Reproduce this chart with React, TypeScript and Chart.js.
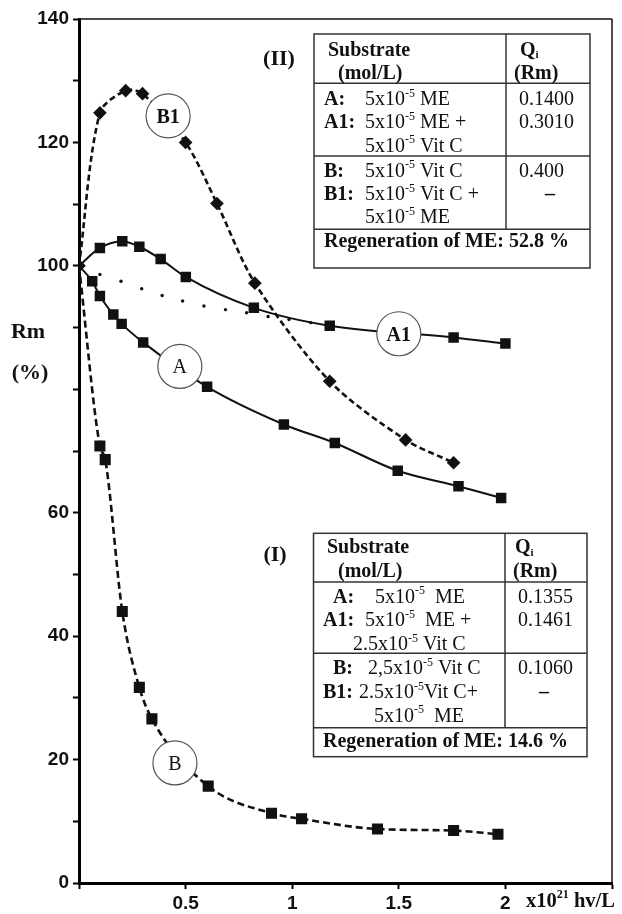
import React, { useEffect, useRef } from "react";
import { Chart, registerables } from "chart.js";

Chart.register(...registerables);

// ---------- data ----------
const aX = [0, 0.062, 0.098, 0.161, 0.2, 0.301, 0.601, 0.961, 1.2, 1.495, 1.78, 1.98];
const aY = [100, 97.5, 95.1, 92.1, 90.6, 87.6, 80.4, 74.3, 71.3, 66.8, 64.3, 62.4];

const a1X = [0, 0.098, 0.203, 0.283, 0.383, 0.501, 0.82, 1.176, 1.757, 2.0];
const a1Y = [100, 102.9, 104.0, 103.1, 101.1, 98.2, 93.2, 90.3, 88.4, 87.4];

const bX = [0, 0.098, 0.123, 0.203, 0.283, 0.342, 0.606, 0.903, 1.044, 1.4, 1.757, 1.965];
const bY = [100, 70.8, 68.6, 44.0, 31.7, 26.6, 15.7, 11.3, 10.4, 8.75, 8.5, 7.9];

const b1X = [0, 0.098, 0.219, 0.298, 0.5, 0.647, 0.825, 1.176, 1.532, 1.757];
const b1Y = [100, 124.8, 128.4, 127.9, 120.0, 110.1, 97.2, 81.3, 71.8, 68.1];

const dotX = [0.098, 0.197, 0.294, 0.39, 0.486, 0.586, 0.687, 0.786, 0.887, 0.985, 1.087];
const dotY = [98.6, 97.5, 96.3, 95.2, 94.3, 93.5, 92.9, 92.4, 91.8, 91.3, 90.8];

const xTickLabels = ["", "0.5", "1", "1.5", "2", ""];
const yTickLabels = ["0", "", "20", "", "40", "", "60", "", "", "", "100", "", "120", "", "140"];

const curveNames = ["B1", "A1", "A", "B"];
const curveLabelX = [0.418, 1.5, 0.473, 0.45];
const curveLabelY = [124.3, 89.0, 83.7, 19.45];

const yTitle = ["Rm", "(%)"];
const xTitle = ["x10", "21", " hv/L"];

type Seg = [string, string];
// Table (II)
const t2Rows: { x: number; y: number; segs: Seg[] }[] = [
  { x: 328, y: 55.7, segs: [["Substrate", "b"]] },
  { x: 338, y: 79.3, segs: [["(mol/L)", "b"]] },
  { x: 520, y: 55.7, segs: [["Q", "b"], ["i", "sub"]] },
  { x: 514, y: 79.3, segs: [["(Rm)", "b"]] },
  { x: 324, y: 105, segs: [["A:", "b"]] },
  { x: 365, y: 105, segs: [["5x10", "n"], ["-5", "sup"], [" ME", "n"]] },
  { x: 519, y: 105, segs: [["0.1400", "n"]] },
  { x: 324, y: 128.3, segs: [["A1:", "b"]] },
  { x: 365, y: 128.3, segs: [["5x10", "n"], ["-5", "sup"], [" ME +", "n"]] },
  { x: 519, y: 128.3, segs: [["0.3010", "n"]] },
  { x: 365, y: 151.7, segs: [["5x10", "n"], ["-5", "sup"], [" Vit C", "n"]] },
  { x: 324, y: 176.7, segs: [["B:", "b"]] },
  { x: 365, y: 176.7, segs: [["5x10", "n"], ["-5", "sup"], [" Vit C", "n"]] },
  { x: 519, y: 176.7, segs: [["0.400", "n"]] },
  { x: 324, y: 200, segs: [["B1:", "b"]] },
  { x: 365, y: 200, segs: [["5x10", "n"], ["-5", "sup"], [" Vit C +", "n"]] },
  { x: 545, y: 200, segs: [["–", "b"]] },
  { x: 365, y: 223.3, segs: [["5x10", "n"], ["-5", "sup"], [" ME", "n"]] },
  { x: 324, y: 246.7, segs: [["Regeneration of ME: 52.8 %", "b"]] },
];
// Table (I)
const t1Rows: { x: number; y: number; segs: Seg[] }[] = [
  { x: 327, y: 553.3, segs: [["Substrate", "b"]] },
  { x: 338, y: 576.7, segs: [["(mol/L)", "b"]] },
  { x: 515, y: 553.3, segs: [["Q", "b"], ["i", "sub"]] },
  { x: 513, y: 576.7, segs: [["(Rm)", "b"]] },
  { x: 333, y: 602.7, segs: [["A:", "b"]] },
  { x: 375, y: 602.7, segs: [["5x10", "n"], ["-5", "sup"], ["  ME", "n"]] },
  { x: 518, y: 602.7, segs: [["0.1355", "n"]] },
  { x: 323, y: 626, segs: [["A1:", "b"]] },
  { x: 365, y: 626, segs: [["5x10", "n"], ["-5", "sup"], ["  ME +", "n"]] },
  { x: 518, y: 626, segs: [["0.1461", "n"]] },
  { x: 353, y: 650, segs: [["2.5x10", "n"], ["-5", "sup"], [" Vit C", "n"]] },
  { x: 333, y: 674, segs: [["B:", "b"]] },
  { x: 368, y: 674, segs: [["2,5x10", "n"], ["-5", "sup"], [" Vit C", "n"]] },
  { x: 518, y: 674, segs: [["0.1060", "n"]] },
  { x: 323, y: 698.3, segs: [["B1:", "b"]] },
  { x: 359, y: 698.3, segs: [["2.5x10", "n"], ["-5", "sup"], ["Vit C+", "n"]] },
  { x: 539, y: 698.3, segs: [["–", "b"]] },
  { x: 374, y: 721.7, segs: [["5x10", "n"], ["-5", "sup"], ["  ME", "n"]] },
  { x: 323, y: 746.7, segs: [["Regeneration of ME: 14.6 %", "b"]] },
];

const SERIF = '"Liberation Serif", "Times New Roman", serif';
const SANS = '"Liberation Sans", Arial, sans-serif';

function drawRich(ctx: CanvasRenderingContext2D, x: number, y: number, segs: Seg[], size: number) {
  let cx = x;
  ctx.textAlign = "left";
  ctx.textBaseline = "alphabetic";
  for (const [t, k] of segs) {
    let dy = 0;
    if (k === "b") ctx.font = `bold ${size}px ${SERIF}`;
    else if (k === "n") ctx.font = `${size}px ${SERIF}`;
    else if (k === "sup") {
      ctx.font = `${Math.round(size * 0.6)}px ${SERIF}`;
      dy = -size * 0.42;
    } else if (k === "bsup") {
      ctx.font = `bold ${Math.round(size * 0.6)}px ${SERIF}`;
      dy = -size * 0.42;
    } else if (k === "sub") {
      ctx.font = `bold ${Math.round(size * 0.55)}px ${SERIF}`;
      dy = size * 0.12;
    }
    ctx.fillText(t, cx, y + dy);
    cx += ctx.measureText(t).width;
  }
}

function line(ctx: CanvasRenderingContext2D, x1: number, y1: number, x2: number, y2: number) {
  ctx.beginPath();
  ctx.moveTo(x1, y1);
  ctx.lineTo(x2, y2);
  ctx.stroke();
}

const decorPlugin = {
  id: "decor",
  beforeDraw(chart: any) {
    const ctx = chart.ctx;
    ctx.save();
    ctx.fillStyle = "#fff";
    ctx.fillRect(0, 0, chart.width, chart.height);
    ctx.restore();
  },
  afterDatasetsDraw(chart: any) {
    const ctx: CanvasRenderingContext2D = chart.ctx;
    const xs = chart.scales.x;
    const ys = chart.scales.y;
    ctx.save();
    for (let i = 0; i < curveNames.length; i++) {
      const px = xs.getPixelForValue(curveLabelX[i]);
      const py = ys.getPixelForValue(curveLabelY[i]);
      ctx.beginPath();
      ctx.arc(px, py, 22, 0, Math.PI * 2);
      ctx.fillStyle = "#fff";
      ctx.fill();
      ctx.lineWidth = 1.2;
      ctx.strokeStyle = "#555";
      ctx.stroke();
      ctx.fillStyle = "#111";
      const bold = curveNames[i].length > 1;
      ctx.font = `${bold ? "bold " : ""}20px ${SERIF}`;
      ctx.textAlign = "center";
      ctx.textBaseline = "alphabetic";
      ctx.fillText(curveNames[i], px, py + 7);
    }
    ctx.restore();
  },
  afterDraw(chart: any) {
    const ctx: CanvasRenderingContext2D = chart.ctx;
    const ca = chart.chartArea;
    ctx.save();
    // top and right frame
    ctx.strokeStyle = "#111";
    ctx.lineWidth = 1.5;
    line(ctx, ca.left, ca.top, ca.right, ca.top);
    line(ctx, ca.right, ca.top, ca.right, ca.bottom);

    // tables
    ctx.strokeStyle = "#333";
    ctx.lineWidth = 1.5;
    // table II
    ctx.strokeRect(314, 34, 276, 234);
    line(ctx, 314, 83.3, 590, 83.3);
    line(ctx, 314, 156, 590, 156);
    line(ctx, 314, 229.3, 590, 229.3);
    line(ctx, 506, 34, 506, 229.3);
    // table I
    ctx.strokeRect(313.5, 533.3, 273.5, 223.4);
    line(ctx, 313.5, 582, 587, 582);
    line(ctx, 313.5, 653.3, 587, 653.3);
    line(ctx, 313.5, 727.7, 587, 727.7);
    line(ctx, 505, 533.3, 505, 727.7);

    ctx.fillStyle = "#111";
    for (const r of t2Rows) drawRich(ctx, r.x, r.y, r.segs, 20);
    for (const r of t1Rows) drawRich(ctx, r.x, r.y, r.segs, 20);

    // panel labels
    ctx.font = `bold 22px ${SERIF}`;
    ctx.textAlign = "center";
    ctx.fillText("(II)", 279, 65);
    ctx.fillText("(I)", 275, 561);

    // y title
    ctx.font = `bold 22px ${SERIF}`;
    ctx.fillText(yTitle[0], 28, 338);
    ctx.fillText(yTitle[1], 30, 379);

    // x title
    drawRich(ctx, 526, 907, [[xTitle[0], "b"], [xTitle[1], "bsup"], [xTitle[2], "b"]], 20.5);
    ctx.restore();
  },
};

export default function App() {
  const ref = useRef<HTMLCanvasElement | null>(null);
  useEffect(() => {
    document.body.style.margin = "0";
    const canvas = ref.current;
    if (!canvas) return;
    const mk = (xs: number[], ys: number[]) => xs.map((x, i) => ({ x, y: ys[i] }));
    const sq = (c: any) => (c.dataIndex === 0 ? 0 : 6);
    const chart = new Chart(canvas, {
      type: "line",
      data: {
        datasets: [
          {
            label: "A",
            data: mk(aX, aY),
            borderColor: "#111",
            backgroundColor: "#111",
            borderWidth: 2,
            pointStyle: "rect",
            pointRadius: sq,
            cubicInterpolationMode: "monotone",
          },
          {
            label: "A1",
            data: mk(a1X, a1Y),
            borderColor: "#111",
            backgroundColor: "#111",
            borderWidth: 2,
            pointStyle: "rect",
            pointRadius: sq,
            cubicInterpolationMode: "monotone",
          },
          {
            label: "B",
            data: mk(bX, bY),
            borderColor: "#111",
            backgroundColor: "#111",
            borderWidth: 2.6,
            borderDash: [7, 4],
            pointStyle: "rect",
            pointRadius: sq,
            cubicInterpolationMode: "monotone",
          },
          {
            label: "B1",
            data: mk(b1X, b1Y),
            borderColor: "#111",
            backgroundColor: "#111",
            borderWidth: 2.6,
            borderDash: [6, 3.5],
            pointStyle: "rectRot",
            pointRadius: 5,
            tension: 0.3,
          },
          {
            label: "dots",
            data: mk(dotX, dotY),
            showLine: false,
            borderColor: "#111",
            backgroundColor: "#111",
            pointStyle: "circle",
            pointRadius: 1.7,
            borderWidth: 0,
          },
        ],
      },
      options: {
        responsive: false,
        animation: false,
        devicePixelRatio: 1,
        events: [],
        layout: { padding: { left: 0, top: 19, right: 10, bottom: 0 } },
        plugins: { legend: { display: false }, tooltip: { enabled: false }, title: { display: false } },
        scales: {
          x: {
            type: "linear",
            min: 0,
            max: 2.5,
            border: { display: true, width: 3, color: "#000" },
            grid: { display: true, drawOnChartArea: false, drawTicks: true, tickLength: 6, tickWidth: 2, tickColor: "#000" },
            ticks: {
              stepSize: 0.5,
              autoSkip: false,
              maxRotation: 0,
              padding: 3,
              color: "#111",
              font: { family: SANS, weight: "bold", size: 19 },
              callback: (_v: any, i: number) => xTickLabels[i] ?? "",
            },
            afterFit: (s: any) => {
              s.height = 31;
            },
          },
          y: {
            type: "linear",
            min: 0,
            max: 140,
            border: { display: true, width: 3, color: "#000" },
            grid: { display: true, drawOnChartArea: false, drawTicks: true, tickLength: 6, tickWidth: 2, tickColor: "#000" },
            ticks: {
              stepSize: 10,
              autoSkip: false,
              padding: 4,
              color: "#111",
              font: { family: SANS, weight: "bold", size: 19 },
              callback: (_v: any, i: number) => yTickLabels[i] ?? "",
            },
            afterFit: (s: any) => {
              s.width = 79;
            },
          },
        },
      },
      plugins: [decorPlugin],
    } as any);
    return () => chart.destroy();
  }, []);
  return (
    <div style={{ width: 622, height: 914, background: "#fff" }}>
      <canvas ref={ref} width={622} height={914} style={{ display: "block" }} />
    </div>
  );
}
